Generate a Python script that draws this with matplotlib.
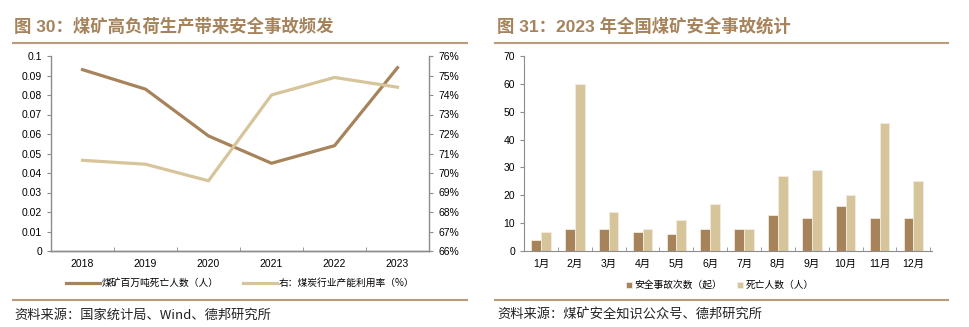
import matplotlib
matplotlib.use('Agg')
import matplotlib.pyplot as plt
import numpy as np
from matplotlib.lines import Line2D

plt.rcParams['font.family'] = ['Liberation Sans', 'Noto Sans CJK SC', 'DejaVu Sans']

# 图30 数据
years = ['2018', '2019', '2020', '2021', '2022', '2023']
death_rate = [0.093, 0.083, 0.059, 0.045, 0.054, 0.094]     # 煤矿百万吨死亡人数
util_rate = [70.65, 70.45, 69.6, 74.0, 74.9, 74.4]          # 煤炭行业产能利用率 %

# 图31 数据
months = ['1月', '2月', '3月', '4月', '5月', '6月', '7月', '8月', '9月', '10月', '11月', '12月']
accidents = [4, 8, 8, 7, 6, 8, 8, 13, 12, 16, 12, 12]
deaths = [7, 60, 14, 8, 11, 17, 8, 27, 29, 20, 46, 25]

DARK = '#A6835B'
LIGHT = '#D6C49B'
TITLE_C = '#A6835B'
SPINE = '#8C8C8C'
W, H = 969, 327

fig = plt.figure(figsize=(W / 100, H / 100), dpi=100)

def fx(px): return px / W
def fy(py): return 1 - py / H

# 标题、分隔线、资料来源
fig.text(fx(14), fy(26), '图 30：煤矿高负荷生产带来安全事故频发', fontsize=12.5, fontweight='bold',
         color=TITLE_C, va='center', family=['Liberation Sans', 'Noto Sans CJK SC'])
fig.text(fx(497), fy(26), '图 31：2023 年全国煤矿安全事故统计', fontsize=12.5, fontweight='bold',
         color=TITLE_C, va='center', family=['Liberation Sans', 'Noto Sans CJK SC'])
for x0, x1 in [(13, 467), (495, 948)]:
    fig.add_artist(Line2D([fx(x0), fx(x1)], [fy(43), fy(43)], color='#B99C7C', lw=1.5))
    fig.add_artist(Line2D([fx(x0), fx(x1)], [fy(300), fy(300)], color='#B99C7C', lw=1.5))
fig.text(fx(14), fy(315), '资料来源：国家统计局、Wind、德邦研究所', fontsize=9.5, va='center',
         color='#222222', family=['Noto Sans CJK SC', 'Liberation Sans'])
fig.text(fx(497), fy(315), '资料来源：煤矿安全知识公众号、德邦研究所', fontsize=9.5, va='center',
         color='#222222', family=['Noto Sans CJK SC', 'Liberation Sans'])

# 左图
ax1 = fig.add_axes([fx(51), fy(251), fx(429 - 51), (251 - 56) / H])
x = np.arange(len(years))
l1, = ax1.plot(x, death_rate, color=DARK, lw=2.3)
ax1.set_ylim(0, 0.1)
ax1.set_yticks(np.arange(0, 0.101, 0.01))
ax1.set_yticklabels(['0'] + ['%.2f' % v for v in np.arange(0.01, 0.1, 0.01)] + ['0.1'])
ax1.set_xlim(-0.5, len(years) - 0.5)
ax1.set_xticks(x)
ax1.set_xticklabels(years)
ax1.set_xticks(np.arange(0.5, len(years) - 0.5, 1), minor=True)
ax1.tick_params(axis='x', which='major', length=0, pad=6)
ax1.tick_params(axis='x', which='minor', direction='in', length=3, color=SPINE)
ax1.tick_params(axis='y', direction='out', length=3, color=SPINE, labelsize=7.5)
ax1.tick_params(axis='x', labelsize=7.5)
ax2 = ax1.twinx()
l2, = ax2.plot(x, util_rate, color=LIGHT, lw=2.3)
ax2.set_ylim(66, 76)
ax2.set_yticks(np.arange(66, 77, 1))
ax2.set_yticklabels(['%d%%' % v for v in range(66, 77)])
ax2.tick_params(axis='y', direction='out', length=3, color=SPINE, labelsize=7.5)
for a in (ax1, ax2):
    a.spines['top'].set_visible(False)
    for s in ('left', 'right', 'bottom'):
        a.spines[s].set_color(SPINE)
        a.spines[s].set_linewidth(1.0)
ax1.spines['right'].set_visible(False)
ax2.spines['left'].set_visible(False)
ax1.legend([l1, l2], ['煤矿百万吨死亡人数（人）', '右：煤炭行业产能利用率（%）'],
           loc='center', bbox_to_anchor=(0.5, -0.165), ncol=2, frameon=False,
           prop={'family': ['Noto Sans CJK SC', 'DejaVu Sans'], 'size': 7},
           handlelength=3.5, handletextpad=0.2, columnspacing=2.5)

# 右图
ax3 = fig.add_axes([fx(524), fy(251), fx(932 - 524), (251 - 56) / H])
xm = np.arange(len(months))
bw = 0.29
ax3.bar(xm - bw / 2, accidents, bw, color=DARK, edgecolor='#F3EBDD', linewidth=0.6, label='安全事故次数（起）')
ax3.bar(xm + bw / 2, deaths, bw, color=LIGHT, edgecolor='#F3EBDD', linewidth=0.6, label='死亡人数（人）')
ax3.set_ylim(0, 70)
ax3.set_yticks(range(0, 71, 10))
ax3.set_xlim(-0.5, len(months) - 0.45)
ax3.set_xticks(xm)
ax3.set_xticklabels(months, family=['Liberation Sans', 'Noto Sans CJK SC'])
ax3.set_xticks(np.arange(0.5, len(months), 1), minor=True)
ax3.tick_params(axis='x', which='major', length=0, pad=6, labelsize=7.5)
ax3.tick_params(axis='x', which='minor', direction='in', length=3, color=SPINE)
ax3.tick_params(axis='y', direction='out', length=3, color=SPINE, labelsize=7.5)
for s in ('top', 'right'):
    ax3.spines[s].set_visible(False)
for s in ('left', 'bottom'):
    ax3.spines[s].set_color(SPINE)
ax3.legend(loc='center', bbox_to_anchor=(0.48, -0.175), ncol=2, frameon=False,
           prop={'family': ['Noto Sans CJK SC', 'DejaVu Sans'], 'size': 7},
           handlelength=0.6, handleheight=0.6, handletextpad=0.3, columnspacing=1.5)

fig.savefig('out.png', dpi=100)
